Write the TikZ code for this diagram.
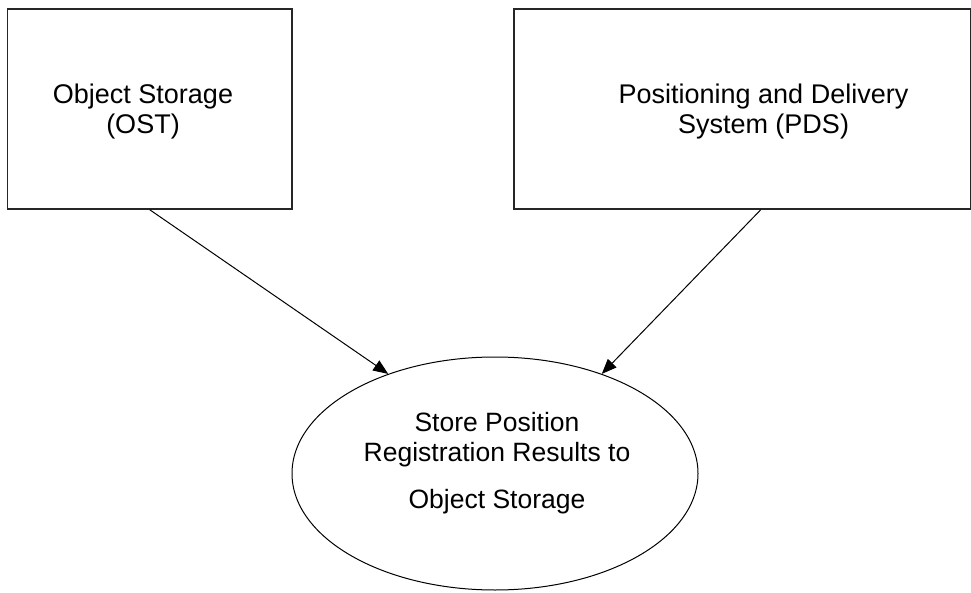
\documentclass[tikz,border=0pt]{standalone}
\usepackage{fontspec}
\setmainfont{Liberation Sans}
\usetikzlibrary{shapes.geometric,arrows.meta}
\begin{document}
\begin{tikzpicture}[x=1pt,y=-1pt,
  sysbox/.style={draw=black!85,line width=1.5pt,rectangle,inner sep=0pt},
  procell/.style={draw=black,line width=1pt,ellipse,inner sep=0pt},
  lbl/.style={align=center,inner sep=0pt,font=\fontsize{27}{30}\selectfont},
  flow/.style={draw=black,line width=1pt,-{Triangle[length=15pt,width=12pt]}}]
\useasboundingbox (0,0) rectangle (971,593);
% external entities
\node[sysbox,minimum width=284.5pt,minimum height=200pt] (ost) at (149.75,109) {};
\node[sysbox,minimum width=456.5pt,minimum height=200pt] (pds) at (742.25,109) {};
\node[lbl] (ostlbl) at (143,112) {Object Storage\\(OST)};
\node[lbl] (pdslbl) at (763.5,112) {Positioning and Delivery\\System (PDS)};
% process
\node[procell,minimum width=406pt,minimum height=233pt] (store) at (495,473.5) {};
\node[lbl,font=\fontsize{26.5}{30}\selectfont] (storelbl) at (497,463.5)
  {Store Position\\Registration Results to\\[17pt]Object Storage};
% data flows
\draw[flow] (ost.south) -- (store.137.6);
\draw[flow] ([xshift=18.5pt]pds.south) -- (store.43);
\end{tikzpicture}
\end{document}
